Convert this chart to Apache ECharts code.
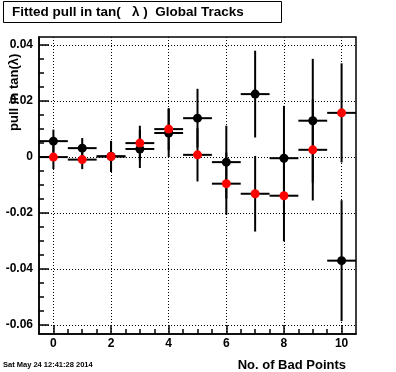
<!DOCTYPE html>
<html>
<head>
<meta charset="utf-8">
<script src="https://cdn.jsdelivr.net/npm/echarts@6/dist/echarts.min.js"></script>
<style>
html,body{margin:0;padding:0;background:#fff;}
#chart{width:396px;height:372px;}
</style>
</head>
<body>
<div id="chart"></div>
<script>
// ---- data ----
const badPoints = [0, 1, 2, 3, 4, 5, 6, 7, 8, 9, 10];
const blackPull = [0.0057, 0.0032, 0.0003, 0.0029, 0.0086, 0.0139, -0.0018, 0.0225, -0.0004, 0.0130, -0.0370];
const blackErr  = [0.0041, 0.0036, 0.0055, 0.0068, 0.0086, 0.0105, 0.0130, 0.0155, 0.0187, 0.0221, 0.0216];
const redPull   = [0.0000, -0.0009, 0.0002, 0.0050, 0.0100, 0.0008, -0.0095, -0.0131, -0.0138, 0.0026, 0.0158];
const redErr    = [0.0043, 0.0034, 0.0055, 0.0062, 0.0075, 0.0095, 0.0111, 0.0135, 0.0163, 0.0181, 0.0177];
const xMajorTicks = [0, 2, 4, 6, 8, 10];
const xMinorTicks = [0.5, 1, 1.5, 2.5, 3, 3.5, 4.5, 5, 5.5, 6.5, 7, 7.5, 8.5, 9, 9.5];
const yMajorTicks = [-0.06, -0.04, -0.02, 0, 0.02, 0.04];
const yMinorTicks = [-0.055, -0.05, -0.045, -0.035, -0.03, -0.025, -0.015, -0.01, -0.005,
                     0.005, 0.01, 0.015, 0.025, 0.03, 0.035];
const titleText = 'Fitted pull in tan(   λ )  Global Tracks';
const yTitle = 'pull in tan(λ)';
const xTitle = 'No. of Bad Points';
const dateText = 'Sat May 24 12:41:28 2014';

const binHalf = 0.5;
const X_MIN = -0.5, X_MAX = 10.5;
const Y_MIN = -0.0632, Y_MAX = 0.0429;

function toErr(vals, errs) { return badPoints.map((x, i) => [x, vals[i], errs[i]]); }
function toPts(vals) { return badPoints.map((x, i) => [x, vals[i]]); }

function errRender(params, api) {
  const x = api.value(0), y = api.value(1), e = api.value(2);
  const lo = api.coord([x, y - e]), hi = api.coord([x, y + e]);
  const l = api.coord([x - binHalf, y]), r = api.coord([x + binHalf, y]);
  const style = { stroke: '#000', lineWidth: 2 };
  return {
    type: 'group',
    children: [
      { type: 'line', shape: { x1: lo[0], y1: lo[1], x2: hi[0], y2: hi[1] }, style: style },
      { type: 'line', shape: { x1: l[0], y1: l[1], x2: r[0], y2: r[1] }, style: style }
    ]
  };
}

const FONT = 'Liberation Sans, Arial, Helvetica, sans-serif';
const chart = echarts.init(document.getElementById('chart'), null, { renderer: 'canvas' });

const baseX = {
  type: 'value', min: X_MIN, max: X_MAX, gridIndex: 0, position: 'bottom'
};
const baseY = {
  type: 'value', min: Y_MIN, max: Y_MAX, gridIndex: 0, position: 'left'
};

chart.setOption({
  animation: false,
  backgroundColor: '#fff',
  grid: { left: 39, right: 40, top: 37, bottom: 38, show: true, borderColor: '#000', borderWidth: 1.5, backgroundColor: 'transparent' },
  xAxis: [
    Object.assign({}, baseX, {
      axisLine: { show: true, onZero: false, lineStyle: { color: '#000', width: 1.5 } },
      axisTick: { show: true, inside: true, length: 9, customValues: xMajorTicks, lineStyle: { color: '#000', width: 1.5 } },
      axisLabel: { show: true, customValues: xMajorTicks, margin: 4, color: '#000', fontWeight: 'bold', fontSize: 12, fontFamily: FONT },
      splitLine: { show: true, lineStyle: { color: '#000', width: 1, type: [1, 2] } }
    }),
    Object.assign({}, baseX, {
      axisLine: { show: false, onZero: false },
      axisTick: { show: true, inside: true, length: 5, customValues: xMinorTicks, lineStyle: { color: '#000', width: 1.5 } },
      axisLabel: { show: false },
      splitLine: { show: false }
    })
  ],
  yAxis: [
    Object.assign({}, baseY, {
      axisLine: { show: true, onZero: false, lineStyle: { color: '#000', width: 1.5 } },
      axisTick: { show: true, inside: true, length: 10, customValues: yMajorTicks, lineStyle: { color: '#000', width: 1.5 } },
      axisLabel: { show: true, customValues: yMajorTicks, margin: 6, color: '#000', fontWeight: 'bold', fontSize: 12, fontFamily: FONT },
      splitLine: { show: true, lineStyle: { color: '#000', width: 1, type: [1, 2] } }
    }),
    Object.assign({}, baseY, {
      axisLine: { show: false, onZero: false },
      axisTick: { show: true, inside: true, length: 5, customValues: yMinorTicks, lineStyle: { color: '#000', width: 1.5 } },
      axisLabel: { show: false },
      splitLine: { show: false }
    })
  ],
  series: [
    { name: 'black err', type: 'custom', xAxisIndex: 0, yAxisIndex: 0, renderItem: errRender,
      encode: { x: 0, y: 1 }, data: toErr(blackPull, blackErr), clip: true, silent: true },
    { name: 'black', type: 'scatter', xAxisIndex: 0, yAxisIndex: 0, symbol: 'circle', symbolSize: 9,
      itemStyle: { color: '#000', opacity: 1 }, data: toPts(blackPull) },
    { name: 'red err', type: 'custom', xAxisIndex: 0, yAxisIndex: 0, renderItem: errRender,
      encode: { x: 0, y: 1 }, data: toErr(redPull, redErr), clip: true, silent: true },
    { name: 'red', type: 'scatter', xAxisIndex: 0, yAxisIndex: 0, symbol: 'circle', symbolSize: 9,
      itemStyle: { color: '#ff0000', opacity: 1 }, data: toPts(redPull) }
  ],
  graphic: [
    { type: 'rect', shape: { x: 3.5, y: 1.5, width: 278, height: 21 }, style: { fill: '#fff', stroke: '#000', lineWidth: 1 } },
    { type: 'text', x: 12, y: 12.5, style: { text: titleText, fill: '#000', font: 'bold 13.5px ' + FONT, align: 'left', verticalAlign: 'middle' } },
    { type: 'text', x: 14, y: 131, rotation: Math.PI / 2, style: { text: yTitle, fill: '#000', font: 'bold 13px ' + FONT, align: 'left', verticalAlign: 'middle' } },
    { type: 'text', x: 346, y: 365, style: { text: xTitle, fill: '#000', font: 'bold 13px ' + FONT, align: 'right', verticalAlign: 'middle' } },
    { type: 'text', x: 3, y: 365, style: { text: dateText, fill: '#000', font: 'bold 7.5px ' + FONT, align: 'left', verticalAlign: 'middle' } }
  ]
});
</script>
</body>
</html>
